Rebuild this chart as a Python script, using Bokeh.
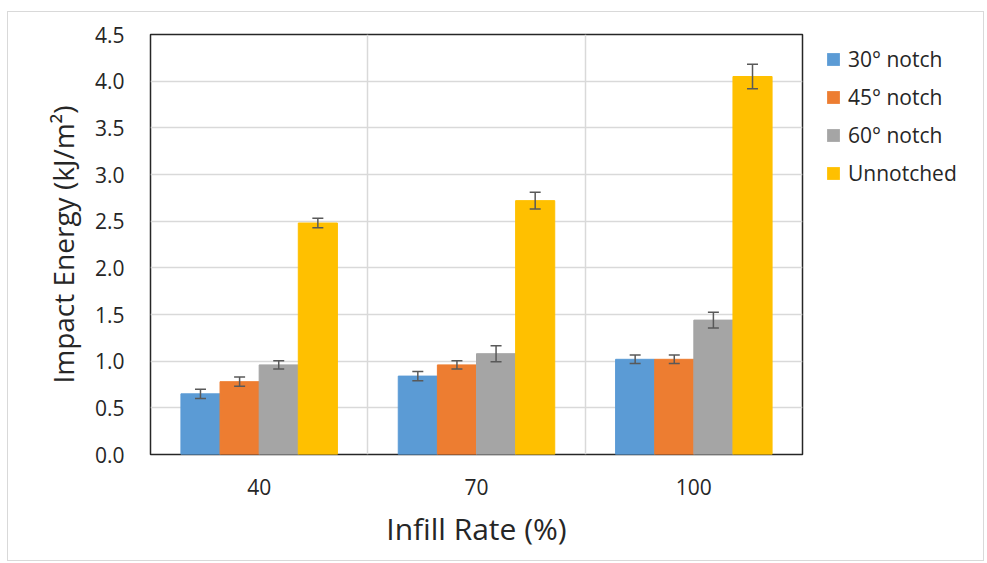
from bokeh.plotting import figure
from bokeh.layouts import row
from bokeh.models import (ColumnDataSource, FactorRange, Whisker, Legend, LegendItem,
                          NumeralTickFormatter, FixedTicker, Grid, TeeHead, Range1d)
from bokeh.transform import dodge
from bokeh.embed import file_html
from bokeh.resources import INLINE

categories = ["40", "70", "100"]
series = ["30° notch", "45° notch", "60° notch", "Unnotched"]
colors = ["#5B9BD5", "#ED7D31", "#A5A5A5", "#FFC000"]
notch30 = [0.65, 0.84, 1.02]
notch45 = [0.78, 0.96, 1.02]
notch60 = [0.96, 1.08, 1.44]
unnotched = [2.48, 2.72, 4.05]
err30 = [0.05, 0.05, 0.045]
err45 = [0.05, 0.045, 0.045]
err60 = [0.045, 0.085, 0.085]
errun = [0.05, 0.09, 0.13]
y_ticks = [0.0, 0.5, 1.0, 1.5, 2.0, 2.5, 3.0, 3.5, 4.0, 4.5]

values = [notch30, notch45, notch60, unnotched]
errors = [err30, err45, err60, errun]

FONT = "Open Sans"
H = 548
W1, W2 = 798, 177

p = figure(x_range=FactorRange(factors=categories, range_padding=0), y_range=(0, 4.5),
           width=W1, height=H, output_backend="svg", toolbar_location=None,
           min_border_left=142, min_border_top=22, min_border_right=4, min_border_bottom=106)

# legend-only figure on the right (its key renderers are zero-size, off-view bars)
lg = figure(x_range=FactorRange(factors=categories), y_range=Range1d(-2, -1),
            width=W2, height=H, output_backend="svg", toolbar_location=None,
            x_axis_location=None, y_axis_location=None,
            min_border_left=9, min_border_top=22, min_border_right=0, min_border_bottom=106)
lg.outline_line_color = None
lg.grid.grid_line_color = None

bar_w = 0.18
offsets = [-1.5 * bar_w, -0.5 * bar_w, 0.5 * bar_w, 1.5 * bar_w]
items = []
for name, vals, errs, col, off in zip(series, values, errors, colors, offsets):
    src = ColumnDataSource(dict(cat=categories, val=vals,
                                lo=[v - e for v, e in zip(vals, errs)],
                                hi=[v + e for v, e in zip(vals, errs)]))
    p.vbar(x=dodge("cat", off, range=p.x_range), top="val", width=bar_w, source=src,
           fill_color=col, line_color=col)
    key = lg.vbar(x=dodge("cat", off, range=lg.x_range), top="val", bottom="val",
                  width=0, source=src, fill_color=col, line_color=None)
    items.append(LegendItem(label=name, renderers=[key]))
    wh = Whisker(base=dodge("cat", off, range=p.x_range), lower="lo", upper="hi", source=src,
                 line_color="#595959", line_width=1.5, level="overlay",
                 upper_head=TeeHead(size=11, line_color="#595959", line_width=1.5),
                 lower_head=TeeHead(size=11, line_color="#595959", line_width=1.5))
    p.add_layout(wh)

p.xgrid.grid_line_color = None
p.ygrid.grid_line_color = "#d9d9d9"
p.ygrid.grid_line_width = 1.5
p.yaxis.ticker = FixedTicker(ticks=y_ticks)
vgrid = Grid(dimension=0, ticker=FixedTicker(ticks=[1, 2]), grid_line_color="#d9d9d9",
             grid_line_width=1.5)
p.add_layout(vgrid)

p.outline_line_color = "#262626"
p.outline_line_width = 1.5
p.outline_line_alpha = 1

for ax in (p.xaxis, p.yaxis):
    ax.axis_line_color = None
    ax.major_tick_line_color = None
    ax.minor_tick_line_color = None
    ax.major_label_text_font = FONT
    ax.major_label_text_font_size = "21px"
    ax.major_label_text_color = "#262626"
    ax.axis_label_text_font = FONT
    ax.axis_label_text_font_style = "normal"
    ax.axis_label_text_color = "#262626"

p.yaxis.axis_label_text_font_size = "28px"
p.xaxis.axis_label_text_font_size = "30px"
p.yaxis.formatter = NumeralTickFormatter(format="0.0")
p.yaxis.major_label_standoff = 20
p.xaxis.major_label_standoff = 18
p.yaxis.axis_label = "Impact Energy (kJ/m²)"
p.xaxis.axis_label = "Infill Rate (%)"
p.yaxis.axis_label_standoff = 10
p.xaxis.axis_label_standoff = 10

legend = Legend(items=items, location="top_left", orientation="vertical",
                border_line_color=None, background_fill_alpha=0,
                label_text_font=FONT, label_text_font_size="21px", label_text_color="#262626",
                glyph_width=16, glyph_height=16, label_height=29, spacing=9,
                padding=0, margin=10, label_standoff=7)
lg.add_layout(legend)

layout = row(p, lg)
layout.styles = {"border": "1px solid #d9d9d9", "margin-left": "7px", "margin-top": "11px"}

open("out.html", "w").write(file_html(layout, INLINE))
